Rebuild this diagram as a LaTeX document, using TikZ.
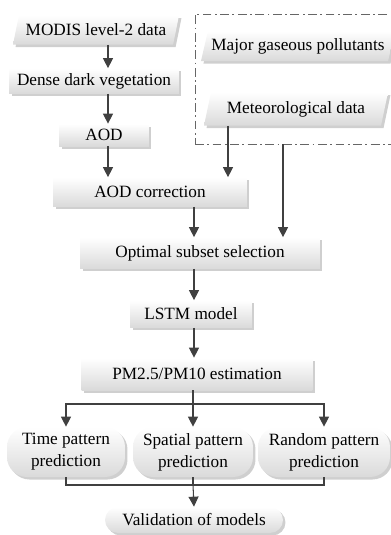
\documentclass[tikz,border=0pt]{standalone}
\usepackage{fontspec}
\setmainfont{Liberation Serif}
\usepackage{tikz}
\usetikzlibrary{arrows.meta,positioning,calc,shapes.geometric,shadows}
\definecolor{pline}{HTML}{404040}
\definecolor{pshade}{HTML}{DADADA}
\definecolor{pshadow}{HTML}{CFCFCF}
\tikzset{
  % shaded box with a soft shadow, no outline
  blk/.style   = {rectangle, top color=white, bottom color=pshade, draw=none,
                  align=center, inner sep=2pt, font=\fontsize{9.8}{12.5}\selectfont,
                  drop shadow={shadow xshift=0.05cm, shadow yshift=-0.05cm,
                               fill=pshadow, opacity=1}},
  data/.style  = {blk, trapezium, trapezium left angle=73, trapezium right angle=107,
                  trapezium stretches body},
  pill/.style  = {blk, rounded corners=0.4cm},
  envbox/.style = {rectangle, draw=pline!80, line width=0.5pt,
                  dash pattern=on 5pt off 2pt on 1pt off 2pt},
  arr/.style   = {-{Triangle[length=0.2cm, width=0.2cm]}, line width=0.6pt, pline},
  ln/.style    = {line width=0.6pt, pline},
}

\begin{document}
\begin{tikzpicture}[x=0.02cm,y=-0.02cm]
\useasboundingbox (0,0) rectangle (391,535);
% inputs
\node[envbox, minimum width=3.96cm, minimum height=2.6cm] (env) at (294,79) {};
\node[data, minimum width=3.32cm, minimum height=0.58cm] (modis) at (96,30) {MODIS level-2 data};
\node[data, minimum width=3.64cm, minimum height=0.6cm] (gas) at (298,46) {Major gaseous pollutants};
\node[data, minimum width=3.68cm, minimum height=0.66cm] (meteo) at (296,109) {Meteorological data};
% AOD chain
\node[blk, minimum width=3.4cm, minimum height=0.5cm] (dense) at (94,81) {Dense dark vegetation};
\node[blk, minimum width=1.8cm, minimum height=0.44cm] (aod) at (104,135) {AOD};
\node[blk, minimum width=3.88cm, minimum height=0.58cm] (corr) at (150,192) {AOD correction};
\node[blk, minimum width=4.8cm, minimum height=0.62cm] (subset) at (200,253) {Optimal subset selection};
\node[blk, minimum width=2.44cm, minimum height=0.54cm] (lstm) at (191,314) {LSTM model};
\node[blk, minimum width=4.62cm, minimum height=0.64cm] (est) at (197,374) {PM2.5/PM10 estimation};
% predictions
\node[pill, minimum width=2.36cm, minimum height=1.0cm] (time) at (66,452) {Time pattern\\prediction};
\node[pill, minimum width=2.4cm, minimum height=1.0cm] (spatial) at (193,452) {Spatial pattern\\prediction};
\node[pill, minimum width=2.64cm, minimum height=1.0cm] (random) at (324,452) {Random pattern\\prediction};
\node[pill, minimum width=3.56cm, minimum height=0.52cm, rounded corners=0.26cm] (valid) at (194,520) {Validation of models};
% connectors
\coordinate (c1) at (108,0);
\coordinate (c2) at (228,0);
\coordinate (c3) at (283,0);
\coordinate (c4) at (194,0);
\draw[arr] (modis.south -| c1) -- (dense.north -| c1);
\draw[arr] (dense.south -| c1) -- (aod.north -| c1);
\draw[arr] (aod.south -| c1) -- (corr.north -| c1);
\draw[arr] (meteo.south -| c2) -- (corr.north -| c2);
\draw[arr] (env.south -| c3) -- (subset.north -| c3);
\draw[arr] (corr.south -| c4) -- (subset.north -| c4);
\draw[arr] (subset.south -| c4) -- (lstm.north -| c4);
\draw[arr] (lstm.south -| c4) -- (est.north -| c4);
\coordinate (split) at (193,404);
\coordinate (merge) at (193,485);
\draw[ln] (est.south -| split) -- (split);
\draw[arr] (split) -| (time.north);
\draw[arr] (split) -- (spatial.north);
\draw[arr] (split) -| (random.north);
\draw[ln] (time.south) |- (merge);
\draw[ln] (random.south) |- (merge);
\draw[ln] (spatial.south) -- (merge);
\draw[arr] (merge) -- (valid.north);
\end{tikzpicture}
\end{document}
